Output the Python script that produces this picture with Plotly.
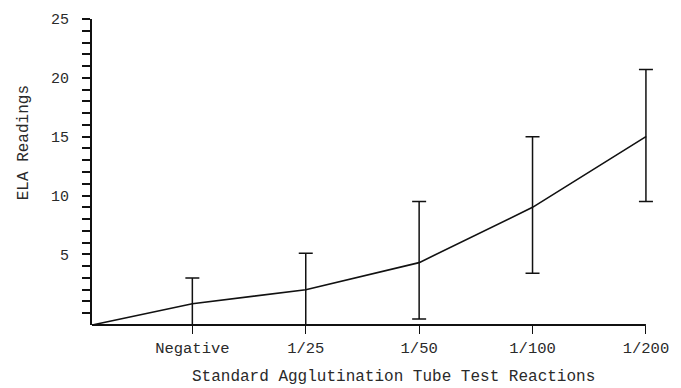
import plotly.graph_objects as go

# ---- data ----
categories = ["Negative", "1/25", "1/50", "1/100", "1/200"]
cat_pos = [1, 2, 3, 4, 5]
mean_readings = [0.8, 2.0, 4.3, 9.0, 15.0]
upper_readings = [3.0, 5.1, 9.5, 15.0, 20.7]
lower_readings = [-1.0, -1.0, -0.5, 3.4, 9.5]
origin_pos = 0.115
origin_reading = -1.0
y_tick_values = list(range(0, 26))
y_tick_labels = [str(v) if v % 5 == 0 and v > 0 else "" for v in y_tick_values]

err_plus = [u - m for u, m in zip(upper_readings, mean_readings)]
err_minus = [m - l for m, l in zip(mean_readings, lower_readings)]

FONT = "Courier New, Liberation Mono, monospace"
INK = "#111111"
TXT = "#2a2a2a"

fig = go.Figure()
# connecting line from the origin through the means
fig.add_trace(go.Scatter(
    x=[origin_pos] + cat_pos,
    y=[origin_reading] + mean_readings,
    mode="lines",
    line=dict(color=INK, width=1.6),
    hoverinfo="skip",
    showlegend=False,
))
# error bars at each category
fig.add_trace(go.Scatter(
    x=cat_pos,
    y=mean_readings,
    mode="markers",
    marker=dict(size=1, color=INK),
    error_y=dict(type="data", symmetric=False, array=err_plus, arrayminus=err_minus,
                 color=INK, thickness=1.5, width=7),
    cliponaxis=False,
    showlegend=False,
))

fig.update_layout(
    width=681, height=388,
    margin=dict(l=92, r=17, t=18, b=63),
    paper_bgcolor="white", plot_bgcolor="white",
    font=dict(family=FONT, size=15, color=TXT),
    showlegend=False,
)
fig.update_xaxes(
    range=[origin_pos, 5.08], tickvals=cat_pos, ticktext=categories,
    showgrid=False, zeroline=False, showline=False,
    ticks="outside", ticklen=8, tickcolor=INK, tickwidth=1.3,
    tickfont=dict(family=FONT, size=15.5, color=TXT),
)
fig.update_yaxes(
    range=[-1, 25], tickvals=y_tick_values, ticktext=y_tick_labels,
    showgrid=False, zeroline=False, showline=True, linecolor=INK, linewidth=1.8,
    ticks="outside", ticklen=8, tickcolor=INK, tickwidth=1.5,
    ticklabelstandoff=10,
    tickfont=dict(family=FONT, size=15, color=TXT),
)
# x axis line running from the origin to the last category
fig.add_shape(type="line", xref="x", yref="paper", layer="above",
              x0=origin_pos, x1=cat_pos[-1], y0=0, y1=0,
              line=dict(color=INK, width=1.8))
fig.add_annotation(text="ELA Readings", textangle=-90, xref="paper", yref="paper",
                   x=-0.141, y=0.596, showarrow=False,
                   font=dict(family=FONT, size=16, color=TXT))
fig.add_annotation(text="Standard Agglutination Tube Test Reactions", xref="paper", yref="paper",
                   x=0.535, y=-0.17, yanchor="middle", showarrow=False,
                   font=dict(family=FONT, size=16, color=TXT))

fig.write_html("out.html")
